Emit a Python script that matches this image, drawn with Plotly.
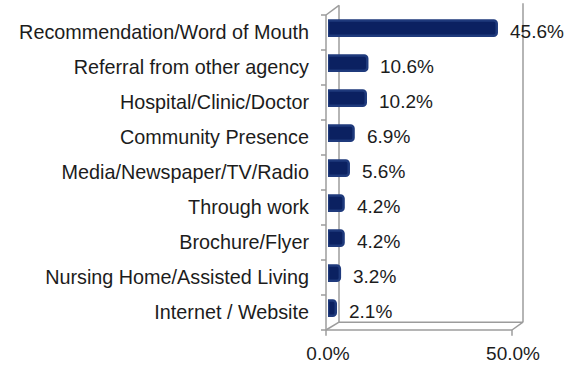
import plotly.graph_objects as go

# Sources of referral (percent of responses), listed top to bottom
categories = [
    "Recommendation/Word of Mouth",
    "Referral from other agency",
    "Hospital/Clinic/Doctor",
    "Community Presence",
    "Media/Newspaper/TV/Radio",
    "Through work",
    "Brochure/Flyer",
    "Nursing Home/Assisted Living",
    "Internet / Website",
]
values = [45.6, 10.6, 10.2, 6.9, 5.6, 4.2, 4.2, 3.2, 2.1]
x_ticks = [0, 50]
x_tick_labels = ["0.0%", "50.0%"]

W_FIG, H_FIG = 576, 376
M_L, M_R, M_T, M_B = 328, 63, 15, 37
PLOT_W = W_FIG - M_L - M_R
PLOT_H = H_FIG - M_T - M_B

FONT = "Liberation Sans, Arial, sans-serif"
TEXT = "#1c1c1c"
BAR = "#0b2161"
FRAME = "#9c9c9c"

# plot from the bottom up so the first category sits at the top
cats_up = categories[::-1]
vals_up = values[::-1]


def px(xp):
    return (xp - M_L) / PLOT_W


def py(yp):
    return 1 - (yp - M_T) / PLOT_H


fig = go.Figure()
fig.add_trace(go.Bar(
    x=vals_up,
    y=cats_up,
    orientation="h",
    width=0.44,
    offset=-0.095,
    marker=dict(color=BAR, line=dict(color="#1f3a7c", width=2.5), cornerradius=3),
    hoverinfo="x+y",
))

annotations = []
for c, v in zip(cats_up, vals_up):
    annotations.append(dict(
        x=v, y=c, xref="x", yref="y", text=f"{v:.1f}%",
        showarrow=False, xanchor="left", yanchor="middle",
        xshift=11, yshift=1,
        font=dict(family=FONT, size=19, color=TEXT),
    ))

# box-style frame: front and back walls
segments = [
    (326, 15, 326, 339),   # front left axis
    (326, 15, 339, 5),     # top depth edge
    (339, 5, 339, 331),    # back left wall
    (326, 339, 339, 331),  # bottom-left depth edge
    (326, 339, 512, 339),  # front floor edge
    (512, 339, 523, 331),  # bottom-right depth edge
    (339, 331, 523, 331),  # back floor edge
    (523, 3, 523, 331),    # back right gridline (50%)
    (326, 339, 326, 345),  # x tick at 0
    (512, 339, 512, 345),  # x tick at 50
]
n = len(categories)
pitch = (339 - 15) / n
for i in range(n + 1):
    yy = 15 + pitch * i
    segments.append((321, yy, 326, yy))

shapes = [
    dict(type="line", xref="paper", yref="paper",
         x0=px(a), y0=py(b), x1=px(c), y1=py(d),
         line=dict(color=FRAME, width=1.5), layer="below")
    for a, b, c, d in segments
]

fig.update_layout(
    width=W_FIG, height=H_FIG,
    margin=dict(l=M_L, r=M_R, t=M_T, b=M_B),
    paper_bgcolor="white", plot_bgcolor="rgba(0,0,0,0)",
    showlegend=False,
    shapes=shapes,
    annotations=annotations,
    font=dict(family=FONT, color=TEXT),
    xaxis=dict(
        range=[0, 50], tickvals=x_ticks, ticktext=x_tick_labels,
        showgrid=False, zeroline=False, showline=False,
        ticks="", ticklabelstandoff=10,
        tickfont=dict(family=FONT, size=19, color=TEXT),
        fixedrange=True,
    ),
    yaxis=dict(
        type="category", categoryorder="array", categoryarray=cats_up,
        range=[-0.5, n - 0.5],
        showgrid=False, zeroline=False, showline=False,
        ticks="", ticklabelstandoff=18,
        tickfont=dict(family=FONT, size=19.8, color=TEXT),
        fixedrange=True,
    ),
)

fig.write_html("out.html")
